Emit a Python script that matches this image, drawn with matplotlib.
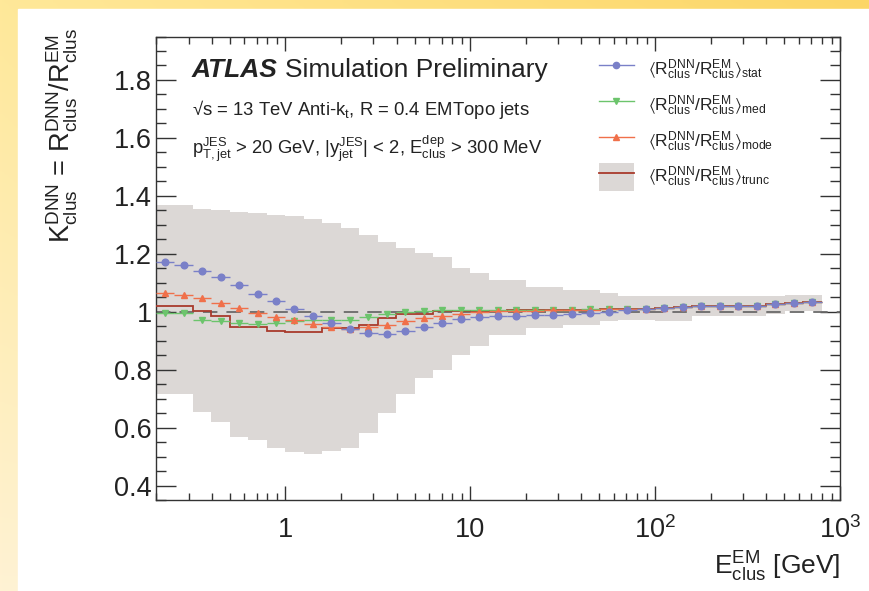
import numpy as np
import matplotlib
matplotlib.use("Agg")
import matplotlib.pyplot as plt
from matplotlib.lines import Line2D
from matplotlib.patches import Patch, Rectangle

plt.rcParams['font.family'] = ['Liberation Sans', 'DejaVu Sans']
plt.rcParams['mathtext.fontset'] = 'custom'
plt.rcParams['mathtext.rm'] = 'Liberation Sans'
plt.rcParams['mathtext.it'] = 'Liberation Sans'
plt.rcParams['mathtext.bf'] = 'Liberation Sans:bold'
plt.rcParams['mathtext.fallback'] = 'stixsans'

# ---------------- data ----------------
log_edges = np.round(np.arange(-0.7, 2.95, 0.1), 2)   # log10(E) bin edges (36 bins)
bin_edges = 10 ** log_edges

k_stat = [1.171, 1.160, 1.142, 1.121, 1.092, 1.061, 1.036, 1.011, 0.986, 0.961,
          0.940, 0.926, 0.924, 0.934, 0.947, 0.962, 0.975, 0.982, 0.985, 0.986,
          0.987, 0.990, 0.993, 0.995, 1.000, 1.006, 1.008, 1.013, 1.015, 1.018,
          1.018, 1.018, 1.021, 1.026, 1.030, 1.033]
k_med = [0.995, 0.995, 0.972, 0.967, 0.961, 0.957, 0.961, 0.969, 0.972, 0.970,
         0.970, 0.980, 0.993, 1.000, 1.002, 1.006, 1.007, 1.007, 1.006, 1.006,
         1.007, 1.007, 1.007, 1.008, 1.008, 1.009, 1.010, 1.013, 1.015, 1.018,
         1.018, 1.018, 1.021, 1.026, 1.030, 1.033]
k_mode = [1.064, 1.056, 1.047, 1.030, 1.013, 0.995, 0.980, 0.970, 0.957, 0.947,
          0.940, 0.946, 0.955, 0.968, 0.979, 0.986, 0.993, 0.999, 1.002, 1.003,
          1.004, 1.005, 1.006, 1.007, 1.008, 1.009, 1.010, 1.013, 1.015, 1.018,
          1.018, 1.018, 1.021, 1.026, 1.030, 1.033]
k_trunc = [1.018, 1.018, 1.003, 0.984, 0.947, 0.947, 0.934, 0.929, 0.929, 0.944,
           0.944, 0.955, 0.978, 0.993, 0.993, 1.003, 1.003, 1.004, 1.004, 1.005,
           1.005, 1.006, 1.006, 1.007, 1.008, 1.009, 1.010, 1.013, 1.015, 1.018,
           1.018, 1.018, 1.021, 1.026, 1.030, 1.033]
band_hi = [1.370, 1.370, 1.355, 1.350, 1.345, 1.340, 1.335, 1.330, 1.320, 1.305,
           1.290, 1.265, 1.240, 1.220, 1.202, 1.190, 1.151, 1.133, 1.110, 1.110,
           1.087, 1.087, 1.076, 1.076, 1.064, 1.053, 1.053, 1.053, 1.053, 1.053,
           1.053, 1.053, 1.053, 1.055, 1.056, 1.056]
band_lo = [0.717, 0.717, 0.653, 0.620, 0.568, 0.557, 0.530, 0.515, 0.510, 0.520,
           0.530, 0.580, 0.650, 0.717, 0.770, 0.800, 0.850, 0.880, 0.920, 0.920,
           0.944, 0.944, 0.955, 0.955, 0.967, 0.972, 0.972, 0.967, 0.967, 0.984,
           0.984, 0.984, 0.984, 0.992, 1.001, 1.001]

xtick_vals = [1, 10, 100, 1000]
xtick_labels = ['1', '10', '$10^{2}$', '$10^{3}$']
ytick_vals = [0.4, 0.6, 0.8, 1.0, 1.2, 1.4, 1.6, 1.8]
ytick_labels = ['0.4', '0.6', '0.8', '1', '1.2', '1.4', '1.6', '1.8']

# ---------------- figure ----------------
W, H = 869, 591
fig = plt.figure(figsize=(W / 100, H / 100), dpi=100)

# slide-like background gradient
bg = fig.add_axes([0, 0, 1, 1], zorder=-10)
bg.set_axis_off()
gx = np.linspace(0, 1, 200)[None, :, None]
gy = np.linspace(0, 1, 200)[:, None, None]
c_tl = np.array([1.00, 0.91, 0.60])
c_tr = np.array([0.99, 0.84, 0.40])
c_bl = np.array([1.00, 0.95, 0.83])
top = c_tl * (1 - gx) + c_tr * gx
img = c_bl * (1 - gy) + top * gy
bg.imshow(img, extent=[0, 1, 0, 1], aspect='auto', origin='lower')
bg.add_patch(Rectangle((18 / W, 0), 1, 1 - 9 / H, color='white', transform=bg.transAxes))
bg.set_xlim(0, 1)
bg.set_ylim(0, 1)

ax = fig.add_axes([156 / W, (H - 500) / H, 684 / W, 463.5 / H])
ax.set_xscale('log')

centers = np.sqrt(bin_edges[:-1] * bin_edges[1:])
xlo = centers - bin_edges[:-1]
xhi = bin_edges[1:] - centers

band_col = '#dcd8d6'
ax.stairs(band_hi, bin_edges, baseline=band_lo, fill=True, color=band_col, lw=0, zorder=1)
ax.axhline(1.0, color='#6a6a6a', lw=1.3, dashes=(8, 5), zorder=2)
ax.stairs(k_trunc, bin_edges, baseline=None, color='#a83a2c', lw=1.3, zorder=3)

c_stat = '#7a80c8'
c_med = '#6cc46c'
c_mode = '#f0704a'
ax.errorbar(centers, k_med, xerr=[xlo, xhi], fmt='v', color=c_med, ms=4.8, lw=1.0,
            capsize=0, zorder=4)
ax.errorbar(centers, k_mode, xerr=[xlo, xhi], fmt='^', color=c_mode, ms=4.8, lw=1.0,
            capsize=0, zorder=5)
ax.errorbar(centers, k_stat, xerr=[xlo, xhi], fmt='o', color=c_stat, ms=4.8, lw=1.0,
            capsize=0, zorder=6)

ax.set_xlim(0.2, 1000)
ax.set_ylim(0.35, 1.95)
ax.set_xticks(xtick_vals)
ax.set_xticklabels(xtick_labels)
ax.set_yticks(ytick_vals)
ax.set_yticklabels(ytick_labels)
ax.yaxis.set_minor_locator(matplotlib.ticker.MultipleLocator(0.05))
ax.xaxis.set_minor_locator(matplotlib.ticker.LogLocator(base=10, subs=np.arange(2, 10)))
ax.xaxis.set_minor_formatter(matplotlib.ticker.NullFormatter())
ax.tick_params(which='both', direction='in', top=True, right=True, color='#333333',
               width=1.0, labelsize=19.5, labelcolor='#222222')
ax.tick_params(axis='y', which='major', length=14.5, pad=3)
ax.tick_params(axis='y', which='minor', length=7.2)
ax.tick_params(axis='x', which='major', length=10, pad=12)
ax.tick_params(axis='x', which='minor', length=5)
for s in ax.spines.values():
    s.set_color('#333333')
    s.set_linewidth(1.0)

# texts
tcol = '#222222'
atl = ax.text(0.052, 0.912, 'ATLAS', transform=ax.transAxes, fontsize=19,
              fontweight='bold', style='italic', color=tcol, va='baseline')
fig.canvas.draw()
bb = atl.get_window_extent()
x_next = ax.transAxes.inverted().transform((bb.x1 + 8, bb.y0))[0]
ax.text(x_next, 0.912, 'Simulation Preliminary', transform=ax.transAxes, fontsize=19,
        color=tcol, va='baseline')
ax.text(0.052, 0.843, '√s = 13 TeV Anti-k$_{\\mathrm{t}}$, R = 0.4 EMTopo jets',
        transform=ax.transAxes, fontsize=13.3, color=tcol, va='center')
ax.text(0.052, 0.758,
        'p$^{\\mathrm{JES}}_{\\mathrm{T,jet}}$ > 20 GeV, |y$^{\\mathrm{JES}}_{\\mathrm{jet}}$| < 2, '
        'E$^{\\mathrm{dep}}_{\\mathrm{clus}}$ > 300 MeV',
        transform=ax.transAxes, fontsize=13.3, color=tcol, va='center')

# legend
lab = r'$\langle\mathrm{R}^{\mathrm{DNN}}_{\mathrm{clus}}/\mathrm{R}^{\mathrm{EM}}_{\mathrm{clus}}\rangle_{\mathrm{%s}}$'
h_stat = Line2D([], [], color=c_stat, marker='o', ms=4.5, lw=1.0)
h_med = Line2D([], [], color=c_med, marker='v', ms=4.5, lw=1.0)
h_mode = Line2D([], [], color=c_mode, marker='^', ms=4.5, lw=1.0)
h_trunc = (Patch(facecolor=band_col, edgecolor='none'), Line2D([], [], color='#a83a2c', lw=1.3))
leg = ax.legend([h_stat, h_med, h_mode, h_trunc],
                [lab % 'stat', lab % 'med', lab % 'mode', lab % 'trunc'],
                loc='upper left', bbox_to_anchor=(0.63, 0.985), frameon=False,
                fontsize=12.5, handlelength=2.0, handleheight=2.1, labelspacing=0.45,
                handletextpad=0.8, borderaxespad=0.3, labelcolor=tcol)

fig.text(840 / W, (H - 567) / H, r'E$^{\mathrm{EM}}_{\mathrm{clus}}$ [GeV]', ha='right',
         va='center', fontsize=19, color=tcol)
fig.text(62 / W, (H - 28) / H,
         r'K$^{\mathrm{DNN}}_{\mathrm{clus}}$ = R$^{\mathrm{DNN}}_{\mathrm{clus}}$/R$^{\mathrm{EM}}_{\mathrm{clus}}$',
         rotation=90, ha='center', va='top', fontsize=19.5, color=tcol)

fig.savefig('out.png', dpi=100)
